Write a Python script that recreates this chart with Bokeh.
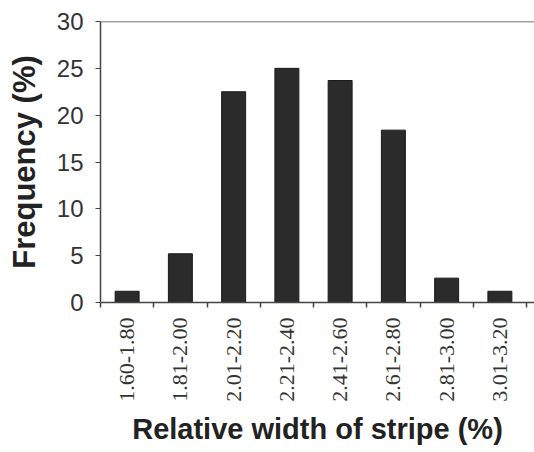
import math
from bokeh.plotting import figure
from bokeh.models import FixedTicker, Span, ColumnDataSource, Range1d
from bokeh.embed import file_html
from bokeh.resources import INLINE

categories = ["1.60-1.80", "1.81-2.00", "2.01-2.20", "2.21-2.40",
              "2.41-2.60", "2.61-2.80", "2.81-3.00", "3.01-3.20"]
frequency = [1.2, 5.2, 22.5, 25.0, 23.7, 18.4, 2.6, 1.2]
y_ticks = [0, 5, 10, 15, 20, 25, 30]

centers = [i + 0.5 for i in range(len(categories))]
bounds = [i for i in range(len(categories) + 1)]

src = ColumnDataSource(dict(x=centers, top=frequency))

p = figure(frame_width=434, frame_height=281, output_backend="svg",
           toolbar_location=None, x_range=Range1d(0, 8.15), y_range=Range1d(0, 30),
           min_border_left=100, min_border_top=21, min_border_right=0,
           min_border_bottom=146)
p.background_fill_color = "white"
p.outline_line_color = None
p.grid.visible = False

p.vbar(x="x", top="top", width=0.45, bottom=0, source=src,
       fill_color="#2b2b2b", line_color="#1a1a1a", line_width=1)

p.add_layout(Span(location=30, dimension="width", line_color="#444444", line_width=1.5))

# y axis
ya = p.yaxis[0]
ya.ticker = FixedTicker(ticks=y_ticks)
ya.axis_line_color = "#444444"
ya.axis_line_width = 1.5
ya.major_tick_line_color = "#444444"
ya.major_tick_out = 5
ya.major_tick_in = 0
ya.minor_tick_line_color = None
ya.major_label_text_font = "Liberation Sans"
ya.major_label_text_font_size = "24px"
ya.major_label_text_color = "#333333"
ya.major_label_standoff = 12
ya.axis_label = "Frequency (%)"
ya.axis_label_text_font = "Liberation Sans"
ya.axis_label_text_font_style = "bold"
ya.axis_label_text_font_size = "31px"
ya.axis_label_text_color = "#222222"
ya.axis_label_standoff = 12

# x axis
xa = p.xaxis[0]
xa.ticker = FixedTicker(ticks=centers, minor_ticks=bounds)
xa.major_label_overrides = {c: lab for c, lab in zip(centers, categories)}
xa.major_label_orientation = math.pi / 2
xa.axis_line_color = "#444444"
xa.axis_line_width = 1.5
xa.major_tick_line_color = None
xa.major_tick_out = 0
xa.major_tick_in = 0
xa.minor_tick_line_color = "#444444"
xa.minor_tick_line_width = 1.5
xa.minor_tick_out = 5
xa.minor_tick_in = 0
xa.major_label_text_font = "Liberation Serif"
xa.major_label_text_font_size = "22px"
xa.major_label_text_color = "#333333"
xa.major_label_standoff = 10
xa.axis_label = "Relative width of stripe (%)"
xa.axis_label_text_font = "Liberation Sans"
xa.axis_label_text_font_style = "bold"
xa.axis_label_text_font_size = "29px"
xa.axis_label_text_color = "#222222"
xa.axis_label_standoff = 8

open("out.html", "w").write(file_html(p, INLINE))
